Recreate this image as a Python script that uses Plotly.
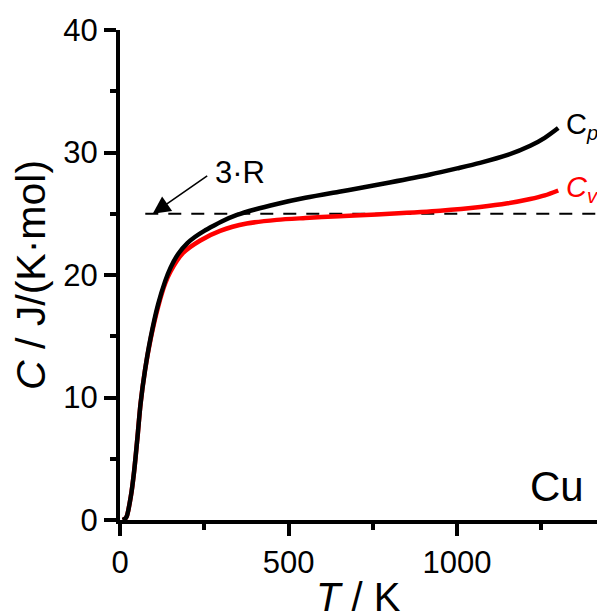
import plotly.graph_objects as go

# Data
T_p = [8, 15, 20, 32, 42, 52, 61, 74, 91, 113, 134, 150, 172, 200, 222, 250, 276, 300,
       347, 400, 465, 550, 650, 712, 800, 920, 1000, 1068, 1150, 1217, 1260, 1300]
Cp = [0, 0.1, 0.3, 1.9, 4.0, 6.8, 9.5, 12.2, 14.9, 17.6, 19.5, 20.6, 21.7, 22.6, 23.1,
      23.6, 24.0, 24.35, 24.9, 25.35, 25.8, 26.3, 26.8, 27.1, 27.55, 28.2, 28.7, 29.15,
      29.8, 30.55, 31.2, 32.0]

T_v = [8, 15, 20, 32, 42, 52, 61, 74, 91, 113, 134, 150, 187, 237, 297, 376, 465, 550,
       650, 712, 800, 950, 1068, 1150, 1217, 1260, 1300]
Cv = [0, 0.1, 0.3, 1.9, 4.0, 6.8, 9.5, 12.2, 14.8, 17.4, 19.3, 20.3, 21.8, 22.8, 23.6,
      24.2, 24.5, 24.65, 24.8, 24.88, 25.0, 25.25, 25.55, 25.85, 26.2, 26.5, 26.9]

R3_T = [75, 1415]
R3_C = [25, 25]

x_ticks = [0, 500, 1000]
y_ticks = [0, 10, 20, 30, 40]

FONT = "Arial, 'Liberation Sans', sans-serif"

fig = go.Figure()
fig.add_trace(go.Scatter(x=R3_T, y=R3_C, mode="lines",
                         line=dict(color="black", width=2, dash="13px,10px"),
                         hoverinfo="skip", showlegend=False))
fig.add_trace(go.Scatter(x=T_v, y=Cv, mode="lines",
                         line=dict(color="#ff0000", width=4.5, shape="spline", smoothing=0.8),
                         showlegend=False))
fig.add_trace(go.Scatter(x=T_p, y=Cp, mode="lines",
                         line=dict(color="black", width=4.5, shape="spline", smoothing=0.8),
                         showlegend=False))

axis_common = dict(showgrid=False, zeroline=False, showline=True, linecolor="black", linewidth=4,
                   ticks="outside", ticklen=12, tickwidth=4, tickcolor="black",
                   tickfont=dict(family=FONT, size=31, color="black"))

fig.update_xaxes(range=[0, 1415], tickvals=x_ticks, ticktext=[str(v) for v in x_ticks],
                 minor=dict(tickvals=[250, 750, 1250], ticks="outside", ticklen=6, tickwidth=4,
                            tickcolor="black"),
                 **axis_common)
fig.update_yaxes(range=[0, 40], tickvals=y_ticks, ticktext=[str(v) for v in y_ticks],
                 minor=dict(tickvals=[5, 15, 25, 35], ticks="outside", ticklen=6, tickwidth=4,
                            tickcolor="black"),
                 **axis_common)

annotations = [
    dict(xref="paper", yref="paper", x=-0.1866, y=0.5, text="<i>C</i> / J/(K·mol)", textangle=-90,
         showarrow=False, xanchor="center", yanchor="middle", font=dict(family=FONT, size=41, color="black")),
    dict(xref="paper", yref="paper", x=0.5, y=-0.108, text="<i>T</i> / K", showarrow=False,
         xanchor="center", yanchor="top", font=dict(family=FONT, size=40, color="black")),
    dict(x=1210, y=2.7, text="Cu", showarrow=False, xanchor="left", yanchor="middle",
         font=dict(family=FONT, size=42, color="black")),
    dict(x=1318, y=32.2, text="C<sub><i>p</i></sub>", showarrow=False, xanchor="left", yanchor="middle",
         font=dict(family=FONT, size=29, color="black")),
    dict(x=1318, y=27.05, text="<i>C</i><sub><i>v</i></sub>", showarrow=False, xanchor="left", yanchor="middle",
         font=dict(family=FONT, size=29, color="#ff0000")),
    dict(x=97, y=25.0, ax=56, ay=-39, text="", showarrow=True, arrowhead=2, arrowsize=2.2,
         arrowwidth=1.6, arrowcolor="black", axref="pixel", ayref="pixel"),
    dict(x=356, y=28.4, text="3·R", showarrow=False, xanchor="center", yanchor="middle",
         font=dict(family=FONT, size=31, color="black")),
]

fig.update_layout(width=597, height=612, margin=dict(l=120, r=0, t=30, b=92),
                  paper_bgcolor="white", plot_bgcolor="white", annotations=annotations,
                  showlegend=False)

fig.write_html("out.html")
